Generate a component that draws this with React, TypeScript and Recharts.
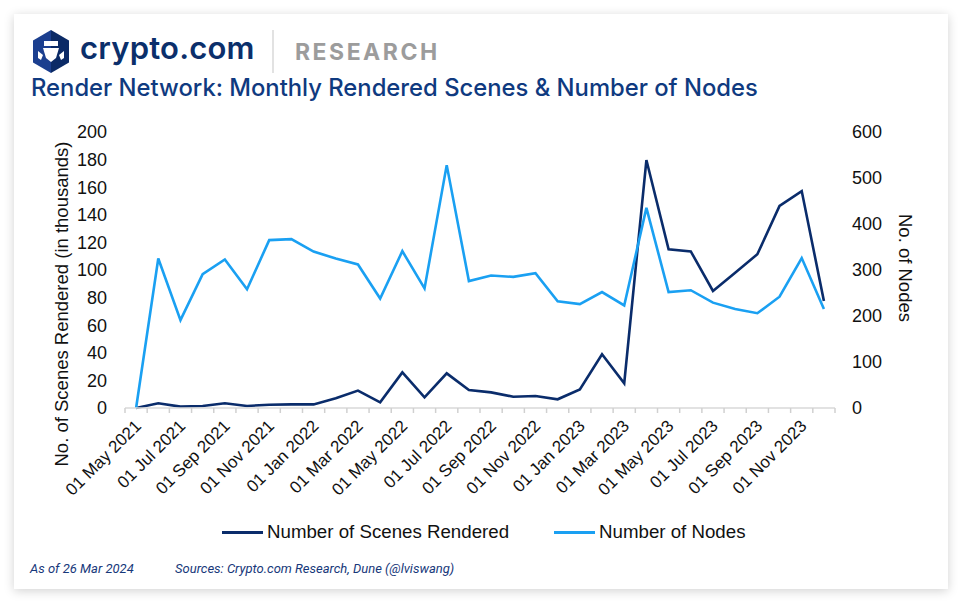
import React from 'react';
import { LineChart, Line, XAxis, YAxis } from 'recharts';

const months = [
  '01 May 2021', '01 Jun 2021', '01 Jul 2021', '01 Aug 2021', '01 Sep 2021', '01 Oct 2021',
  '01 Nov 2021', '01 Dec 2021', '01 Jan 2022', '01 Feb 2022', '01 Mar 2022', '01 Apr 2022',
  '01 May 2022', '01 Jun 2022', '01 Jul 2022', '01 Aug 2022', '01 Sep 2022', '01 Oct 2022',
  '01 Nov 2022', '01 Dec 2022', '01 Jan 2023', '01 Feb 2023', '01 Mar 2023', '01 Apr 2023',
  '01 May 2023', '01 Jun 2023', '01 Jul 2023', '01 Aug 2023', '01 Sep 2023', '01 Oct 2023',
  '01 Nov 2023', '01 Dec 2023',
];

// thousands of scenes
const scenes = [
  0, 3.4, 1, 1.5, 3.4, 1.5, 2.4, 2.6, 2.6, 7, 12.6, 4.1, 25.8, 7.7, 25.1, 13,
  11.3, 8.2, 8.7, 6.3, 13.5, 38.9, 17.9, 179.7, 115, 113.5, 84.8, 98, 111.4, 146.4, 157.2, 77.5,
];

const nodes = [
  0, 325, 191, 291, 323, 258, 365, 367, 340, 325, 312, 238, 341, 260, 528, 276,
  288, 285, 293, 232, 226, 252, 223, 435, 252, 256, 229, 215, 206, 242, 326, 215,
];

const leftTicks = [0, 20, 40, 60, 80, 100, 120, 140, 160, 180, 200];
const rightTicks = [0, 100, 200, 300, 400, 500, 600];

const NAVY = '#0a2c6b';
const LIGHT = '#1aa0f2';

const series = [
  { key: 'scenes', name: 'Number of Scenes Rendered', color: NAVY, axis: 'left' },
  { key: 'nodes', name: 'Number of Nodes', color: LIGHT, axis: 'right' },
];

const data = months.map((m, i) => ({ i, month: m, scenes: scenes[i], nodes: nodes[i] }));

// tick marks sit between months, labels on every second month
const xTicks: number[] = [-0.5];
months.forEach((_, i) => {
  if (i % 2 === 0) xTicks.push(i);
  xTicks.push(i + 0.5);
});

const XTick = (props: any) => {
  const { x, y, payload } = props;
  const v = payload.value;
  if (!Number.isInteger(v)) {
    return <line x1={x} x2={x} y1={y} y2={y + 5} stroke="#d0d0d0" strokeWidth={1.5} />;
  }
  const ax = x + 6;
  const ay = y + 19;
  return (
    <text
      x={ax}
      y={ay}
      textAnchor="end"
      fontSize={17}
      fill="#111"
      fontFamily="'Liberation Sans', Arial, sans-serif"
      transform={`rotate(-45 ${ax} ${ay})`}
    >
      {months[v]}
    </text>
  );
};

const axisFont = { fontSize: 18, fill: '#111', fontFamily: "'Liberation Sans', Arial, sans-serif" };
const footFont = { fontFamily: 'Roboto, sans-serif', fontStyle: 'italic', fontSize: 13, color: '#17387a', whiteSpace: 'nowrap' as const };

export default function App() {
  return (
    <div style={{ position: 'absolute', left: 0, top: 0, width: 972, height: 614, background: '#fff', overflow: 'hidden' }}>
      <div
        style={{
          position: 'absolute', left: 14, top: 14, width: 934, height: 575,
          background: '#fff', boxShadow: '0 2px 10px rgba(0,0,0,0.18)',
        }}
      />
      {/* header */}
      <svg style={{ position: 'absolute', left: 0, top: 0 }} width={300} height={80}>
        <defs>
          <linearGradient id="hex" x1="0" x2="1" y1="0" y2="0">
            <stop offset="0.5" stopColor="#1b3f8f" />
            <stop offset="0.5" stopColor="#0b2a66" />
          </linearGradient>
        </defs>
        <polygon points="51,30 69,40.5 69,62.5 51,73 33,62.5 33,40.5" fill="url(#hex)" />
        <path d="M44,41 L58,41 L58,46 L44,46 Z" fill="#fff" />
        <path d="M43,48 L59,48 L56,58 L51,62 L46,58 Z" fill="#fff" />
        <path d="M38,51 L43,55 L41,60 L38,58 Z M64,51 L59,55 L61,60 L64,58 Z" fill="#fff" />
        <line x1={273} x2={273} y1={30} y2={73} stroke="#cfcfcf" strokeWidth={1.2} />
      </svg>
      <div
        style={{
          position: 'absolute', left: 80, top: 28, fontFamily: 'Inter, sans-serif', fontWeight: 600,
          fontSize: 31, color: '#0b2f6b', lineHeight: '40px', letterSpacing: 0.2,
        }}
      >
        crypto.com
      </div>
      <div
        style={{
          position: 'absolute', left: 295, top: 36, fontFamily: 'Inter, sans-serif', fontWeight: 700,
          fontSize: 23, color: '#9c9c9c', lineHeight: '32px', letterSpacing: 2.5,
        }}
      >
        RESEARCH
      </div>
      <div
        style={{
          position: 'absolute', left: 31, top: 73, fontFamily: 'Inter, sans-serif', fontWeight: 500,
          fontSize: 23.8, color: '#0f3a80', lineHeight: '30px', whiteSpace: 'nowrap',
        }}
      >
        Render Network: Monthly Rendered Scenes &amp; Number of Nodes
      </div>

      <div style={{ position: 'absolute', left: 0, top: 0 }}>
        <LineChart
          width={972}
          height={520}
          data={data}
          margin={{ top: 132, left: 65, right: 77, bottom: 22 }}
        >
          <XAxis
            dataKey="i"
            type="number"
            domain={[-0.5, months.length - 0.5]}
            ticks={xTicks}
            interval={0}
            height={90}
            tickSize={0}
            tickMargin={0}
            tickLine={false}
            tick={<XTick />}
            axisLine={{ stroke: '#d9d9d9', strokeWidth: 1.5 }}
          />
          <YAxis
            yAxisId="left"
            orientation="left"
            width={60}
            domain={[0, 200]}
            ticks={leftTicks}
            interval={0}
            axisLine={false}
            tickLine={false}
            tickSize={0}
            tickMargin={18}
            tick={axisFont}
          />
          <YAxis
            yAxisId="right"
            orientation="right"
            width={60}
            domain={[0, 600]}
            ticks={rightTicks}
            interval={0}
            axisLine={false}
            tickLine={false}
            tickSize={0}
            tickMargin={17}
            tick={{ ...axisFont, textAnchor: 'start' }}
          />
          {series.map(s => (
            <Line
              key={s.key}
              yAxisId={s.axis}
              dataKey={s.key}
              name={s.name}
              type="linear"
              stroke={s.color}
              strokeWidth={2.6}
              dot={false}
              activeDot={false}
              isAnimationActive={false}
            />
          ))}
        </LineChart>
      </div>

      {/* axis titles */}
      <div
        style={{
          position: 'absolute', left: 62, top: 304, transform: 'translate(-50%, -50%) rotate(-90deg)',
          whiteSpace: 'nowrap', fontFamily: "'Liberation Sans', Arial, sans-serif", fontSize: 18.5, color: '#111',
        }}
      >
        No. of Scenes Rendered (in thousands)
      </div>
      <div
        style={{
          position: 'absolute', left: 905, top: 268, transform: 'translate(-50%, -50%) rotate(90deg)',
          whiteSpace: 'nowrap', fontFamily: "'Liberation Sans', Arial, sans-serif", fontSize: 18.5, color: '#111',
        }}
      >
        No. of Nodes
      </div>

      {/* legend */}
      <div style={{ position: 'absolute', left: 222, top: 519, display: 'flex', alignItems: 'center', height: 26 }}>
        {series.map((s, idx) => (
          <div key={s.key} style={{ display: 'flex', alignItems: 'center', marginLeft: idx === 0 ? 0 : 45 }}>
            <div style={{ width: 41, height: 3, background: s.color, marginRight: 4 }} />
            <span style={{ fontFamily: "'Liberation Sans', Arial, sans-serif", fontSize: 18.7, color: '#111', whiteSpace: 'nowrap' }}>
              {s.name}
            </span>
          </div>
        ))}
      </div>

      {/* footer */}
      <div style={{ position: 'absolute', left: 30, top: 561, ...footFont }}>As of 26 Mar 2024</div>
      <div style={{ position: 'absolute', left: 175, top: 561, ...footFont }}>
        Sources: Crypto.com Research, Dune (@lviswang)
      </div>
    </div>
  );
}
